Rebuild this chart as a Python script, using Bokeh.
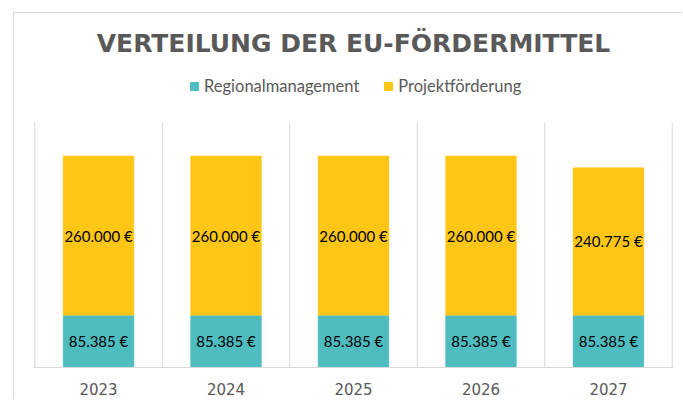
from bokeh.plotting import figure
from bokeh.models import (FactorRange, Range1d, ColumnDataSource, Legend, LegendItem)
from bokeh.transform import dodge
from bokeh.core.properties import value
from bokeh.embed import file_html
from bokeh.resources import INLINE

# ---- data ----
years = ["2023", "2024", "2025", "2026", "2027"]
regionalmanagement = [85385, 85385, 85385, 85385, 85385]
projektfoerderung = [260000, 260000, 260000, 260000, 240775]
series_names = ["Regionalmanagement", "Projektförderung"]
title_text = "VERTEILUNG DER EU-FÖRDERMITTEL"
y_max = 400000

# ---- style ----
TEAL = "#4FBDC0"
YELLOW = "#FFC616"
TEXT_GRAY = "#595959"
GRID = "#D9D9D9"

W, H = 669, 387
FRAME_TOP = 55
BORDER_BOTTOM = 33
GRID_PX = 245  # pixel height of the 0..y_max span
frame_h = H - FRAME_TOP - BORDER_BOTTOM
y_end = y_max * frame_h / GRID_PX


def fmt(v):
    return f"{v:,}".replace(",", ".") + " €"


src = ColumnDataSource(dict(
    year=years,
    reg=regionalmanagement,
    proj=projektfoerderung,
    y_reg=[r / 2 for r in regionalmanagement],
    y_proj=[r + p / 2 for r, p in zip(regionalmanagement, projektfoerderung)],
    t_reg=[fmt(v) for v in regionalmanagement],
    t_proj=[fmt(v) for v in projektfoerderung],
    y0=[0] * len(years),
    y1=[y_max] * len(years),
))
end_src = ColumnDataSource(dict(year=[years[-1]], y0=[0], y1=[y_max]))

p = figure(width=W, height=H, output_backend="svg", toolbar_location=None,
           title=title_text, y_axis_location=None,
           x_range=FactorRange(*years, range_padding=0.004),
           y_range=Range1d(0, y_end),
           min_border_left=19, min_border_right=10,
           min_border_top=FRAME_TOP, min_border_bottom=BORDER_BOTTOM)
p.outline_line_color = None
p.xgrid.visible = False
p.ygrid.visible = False
p.background_fill_color = "white"
p.border_fill_color = "white"

p.title.align = "center"
p.title.text_font = "DejaVu Sans"
p.title.text_font_size = "25px"
p.title.text_font_style = "bold"
p.title.text_color = TEXT_GRAY
p.title.standoff = 22

# category boundary lines
p.segment(x0=dodge("year", -0.5, range=p.x_range), x1=dodge("year", -0.5, range=p.x_range),
          y0="y0", y1="y1", source=src, line_color=GRID, line_width=1)
p.segment(x0=dodge("year", 0.5, range=p.x_range), x1=dodge("year", 0.5, range=p.x_range),
          y0="y0", y1="y1", source=end_src, line_color=GRID, line_width=1)

p.vbar_stack(["reg", "proj"], x="year", width=0.555, source=src,
             fill_color=[TEAL, YELLOW], line_color=[TEAL, YELLOW], line_width=0.5)

for col_y, col_t in (("y_reg", "t_reg"), ("y_proj", "t_proj")):
    p.text(x="year", y=col_y, text=col_t, source=src, text_align="center",
           text_baseline="middle", text_font=value("Lato"), text_font_size="15px",
           text_color="black")

# x axis
ax = p.xaxis[0]
ax.axis_line_color = GRID
ax.axis_line_width = 1
ax.major_tick_line_color = None
ax.minor_tick_line_color = None
ax.major_tick_out = 0
ax.major_tick_in = 0
ax.minor_tick_out = 0
ax.minor_tick_in = 0
ax.major_label_standoff = 15
ax.major_label_text_font = "DejaVu Sans"
ax.major_label_text_font_size = "15px"
ax.major_label_text_color = TEXT_GRAY

# legend with square markers (renderers hold no drawable point)
nan = float("nan")
r1 = p.scatter(x=[years[0]], y=[nan], marker="square", size=8,
               fill_color=TEAL, line_color=TEAL)
r2 = p.scatter(x=[years[0]], y=[nan], marker="square", size=8,
               fill_color=YELLOW, line_color=YELLOW)
legend = Legend(items=[LegendItem(label=series_names[0], renderers=[r1]),
                       LegendItem(label=series_names[1], renderers=[r2])],
                orientation="horizontal", location=(151, 271),
                glyph_width=20, glyph_height=20, label_standoff=0, spacing=19,
                padding=0, margin=0, border_line_color=None, background_fill_alpha=0,
                label_text_font="Lato", label_text_font_size="16.5px",
                label_text_color=TEXT_GRAY)
p.add_layout(legend)

p.styles = {"margin-left": "13px", "margin-top": "12px",
            "border-left": "1px solid #D9D9D9", "border-top": "1px solid #D9D9D9"}

open("out.html", "w").write(file_html(p, INLINE))
